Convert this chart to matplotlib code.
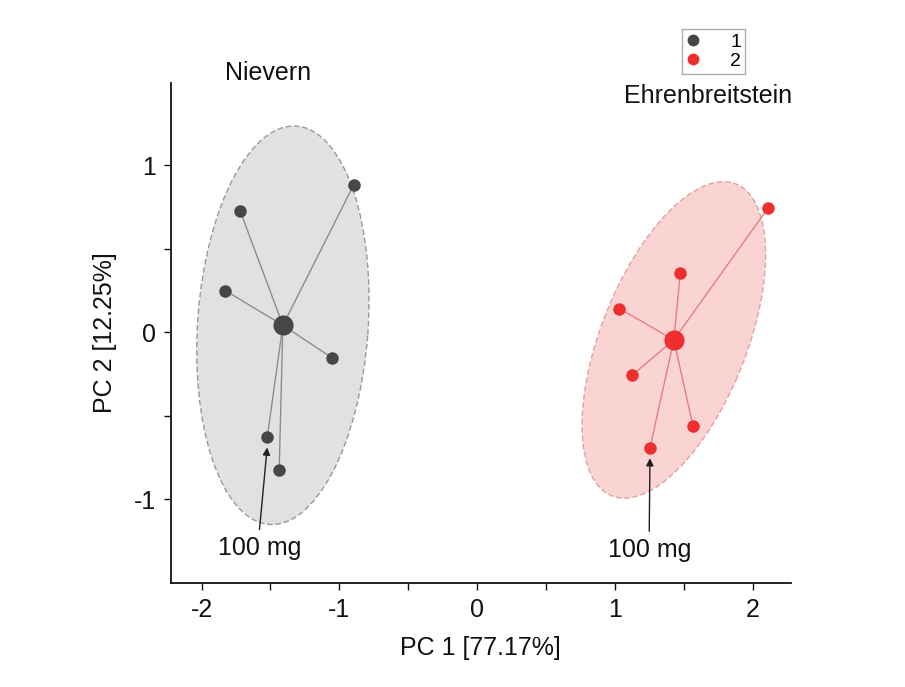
import numpy as np
import matplotlib
matplotlib.use("Agg")
import matplotlib.pyplot as plt
from matplotlib.patches import Ellipse
from matplotlib.lines import Line2D
from matplotlib.ticker import MultipleLocator

plt.rcParams['font.family'] = ['Liberation Sans', 'DejaVu Sans']

# PCA scores for the two sampling sites
pc1_site1 = [-0.896, -1.720, -1.829, -1.054, -1.524, -1.437]
pc2_site1 = [0.882, 0.726, 0.250, -0.152, -0.629, -0.824]
pc1_site2 = [2.113, 1.475, 1.034, 1.126, 1.568, 1.255]
pc2_site2 = [0.744, 0.353, 0.142, -0.256, -0.563, -0.693]

group_labels = ['1', '2']
site_names = ['Nievern', 'Ehrenbreitstein']
x_title = 'PC 1 [77.17%]'
y_title = 'PC 2 [12.25%]'
x_ticks = [-2, -1, 0, 1, 2]
y_ticks = [-1, 0, 1]

# 100 mg sample in each group (index into the arrays above)
idx_100mg = [4, 5]

# F(0.95; 2, n-2) for n = 6, used for the 95% confidence ellipse of the mean
F_CRIT = 6.944

dot_colors = ['#474747', '#ef2f2f']
link_colors = ['#8c8c8c', '#e87e7e']
fill_colors = ['#e1e1e1', '#fad3d3']
edge_colors = ['#999999', '#e6a0a0']

fig = plt.figure(figsize=(9.05, 6.87), dpi=100)
ax = fig.add_axes([0.189, 0.152, 0.6847, 0.7276])


def confidence_ellipse(x, y, **kw):
    x = np.asarray(x)
    y = np.asarray(y)
    n = len(x)
    k = np.sqrt(2 * (n - 1) / (n * (n - 2)) * F_CRIT)
    cov = np.cov(x, y)
    vals, vecs = np.linalg.eigh(cov)
    order = vals.argsort()[::-1]
    vals, vecs = vals[order], vecs[:, order]
    angle = np.degrees(np.arctan2(vecs[1, 0], vecs[0, 0]))
    w, h = 2 * k * np.sqrt(vals)
    return Ellipse((x.mean(), y.mean()), w, h, angle=angle, **kw)


groups = [(pc1_site1, pc2_site1), (pc1_site2, pc2_site2)]
for g, (xs, ys) in enumerate(groups):
    xs = np.asarray(xs)
    ys = np.asarray(ys)
    cx, cy = xs.mean(), ys.mean()
    ax.add_patch(confidence_ellipse(xs, ys, facecolor=fill_colors[g],
                                    edgecolor=edge_colors[g], lw=1.0,
                                    linestyle=(0, (4, 2)), zorder=1))
    for px, py in zip(xs, ys):
        ax.plot([cx, px], [cy, py], color=link_colors[g], lw=1.0, zorder=2)
    ax.plot(xs, ys, 'o', color=dot_colors[g], ms=9, mec='none', zorder=3)
    ax.plot([cx], [cy], 'o', color=dot_colors[g], ms=14.5, mec='none', zorder=3)

# 100 mg annotations
label_pos = [(-1.58, -1.29), (1.25, -1.30)]
for g, (xs, ys) in enumerate(groups):
    i = idx_100mg[g]
    tx, ty = label_pos[g]
    ax.annotate('', xy=(xs[i], ys[i] - 0.06), xytext=(tx, ty + 0.11),
                arrowprops=dict(arrowstyle='-|>', color='#222222', lw=1.0,
                                mutation_scale=11, shrinkA=0, shrinkB=0),
                zorder=4)
    ax.text(tx, ty, '100 mg', ha='center', va='center', fontsize=18,
            color='#111111', zorder=4)

# site names
ax.text(-1.52, 1.553, site_names[0], ha='center', va='center', fontsize=18,
        color='#111111', clip_on=False)
ax.text(1.68, 1.411, site_names[1], ha='center', va='center', fontsize=18,
        color='#111111', clip_on=False)

ax.set_xlim(-2.222, 2.277)
ax.set_ylim(-1.497, 1.493)
ax.set_xticks(x_ticks)
ax.set_yticks(y_ticks)
ax.set_xticklabels([str(t) for t in x_ticks])
ax.set_yticklabels([str(t) for t in y_ticks])
ax.xaxis.set_minor_locator(MultipleLocator(0.5))
ax.yaxis.set_minor_locator(MultipleLocator(0.5))
ax.tick_params(which='both', direction='out', length=5, width=1.0,
               labelsize=18, colors='#111111', pad=6)
for side in ['top', 'right']:
    ax.spines[side].set_visible(False)
for side in ['left', 'bottom']:
    ax.spines[side].set_linewidth(1.3)
    ax.spines[side].set_color('#111111')

ax.set_xlabel(x_title, fontsize=18, color='#111111', labelpad=10)
ax.set_ylabel(y_title, fontsize=18, color='#111111', labelpad=12)

handles = [Line2D([], [], marker='o', ls='none', color=dot_colors[g], mec='none',
                  ms=8.5, label=group_labels[g]) for g in range(2)]
leg = ax.legend(handles=handles, loc='upper left', bbox_to_anchor=(0.824, 1.107),
                fontsize=14, frameon=True, fancybox=False, edgecolor='#9a9a9a',
                handlelength=0.8, handletextpad=1.5, borderpad=0.2,
                labelspacing=0.1, borderaxespad=0)
leg.get_frame().set_linewidth(1.0)

fig.savefig('out.png', dpi=100, facecolor='white')
